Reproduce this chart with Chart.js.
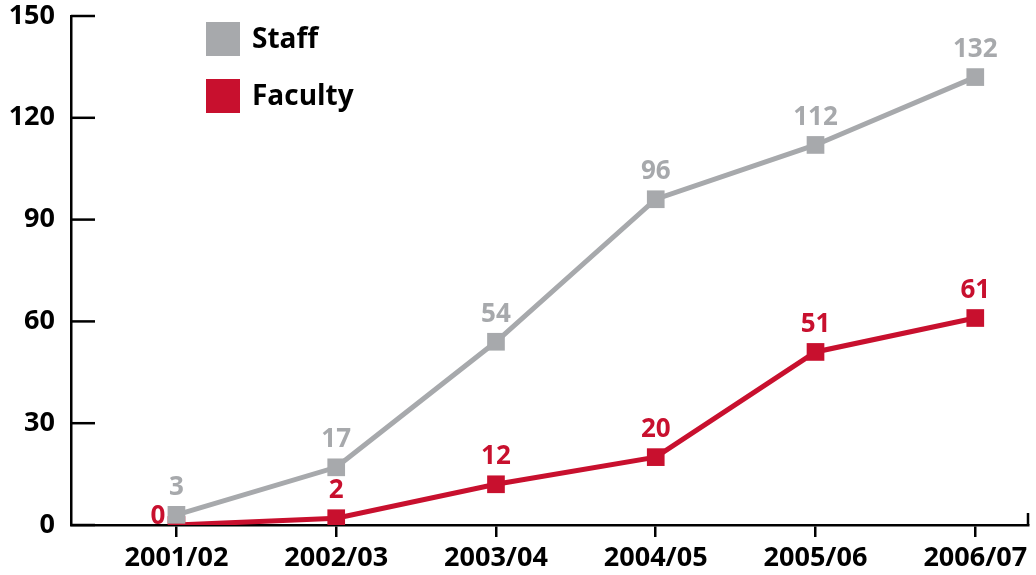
<!DOCTYPE html>
<html>
<head>
<meta charset="utf-8">
<script src="https://cdn.jsdelivr.net/npm/chart.js@4.4.1/dist/chart.umd.min.js"></script>
<style>
  html, body { margin: 0; padding: 0; background: #fff; }
  #wrap { width: 1036px; height: 575px; position: relative; }
</style>
</head>
<body>
<div id="wrap"><canvas id="chart"></canvas></div>
<script>
// ---- data ----
const years = ['2001/02', '2002/03', '2003/04', '2004/05', '2005/06', '2006/07'];
const staff = [3, 17, 54, 96, 112, 132];
const faculty = [0, 2, 12, 20, 51, 61];
const yTicks = [0, 30, 60, 90, 120, 150];

const GREY = '#a7a9ac';
const RED = '#c8102e';
const FONT = "'Open Sans', 'Noto Sans', sans-serif";

const toPoints = arr => arr.map((v, i) => ({ x: i, y: v }));

// ---- custom drawing: inner y ticks, right end tick, legend, value labels ----
const extras = {
  id: 'extras',
  afterDatasetsDraw(chart) {
    const ctx = chart.ctx;
    const { x, y } = chart.scales;
    const area = chart.chartArea;
    ctx.save();

    // y ticks pointing into the plot
    ctx.strokeStyle = '#000';
    ctx.lineWidth = 2.5;
    yTicks.forEach(v => {
      const py = y.getPixelForValue(v);
      ctx.beginPath();
      ctx.moveTo(area.left, py);
      ctx.lineTo(area.left + 24, py);
      ctx.stroke();
    });
    // small upward tick at right end of x axis
    ctx.beginPath();
    ctx.moveTo(area.right, area.bottom);
    ctx.lineTo(area.right, area.bottom - 12);
    ctx.stroke();

    // value labels
    ctx.font = 'bold 26px ' + FONT;
    chart.data.datasets.forEach((ds, di) => {
      const meta = chart.getDatasetMeta(di);
      meta.data.forEach((pt, i) => {
        // if another series sits just above this point, put the label on the left
        let crowded = false;
        chart.data.datasets.forEach((other, oi) => {
          if (oi === di) return;
          const op = chart.getDatasetMeta(oi).data[i];
          if (op.y < pt.y && pt.y - op.y < 30) crowded = true;
        });
        ctx.fillStyle = ds.borderColor;
        if (crowded) {
          ctx.textAlign = 'right';
          ctx.textBaseline = 'middle';
          ctx.fillText(String(ds.data[i].y), pt.x - 11, pt.y - 8);
        } else {
          ctx.textAlign = 'center';
          ctx.textBaseline = 'alphabetic';
          ctx.fillText(String(ds.data[i].y), pt.x, pt.y - 20);
        }
      });
    });

    // legend
    ctx.font = 'bold 28px ' + FONT;
    ctx.textAlign = 'left';
    ctx.textBaseline = 'middle';
    chart.data.datasets.forEach((ds, di) => {
      const top = 22 + di * 57;
      ctx.fillStyle = ds.borderColor;
      ctx.fillRect(206, top, 34, 34);
      ctx.fillStyle = '#000';
      ctx.fillText(ds.label, 252, top + 18);
    });

    ctx.restore();
  }
};

new Chart(document.getElementById('chart'), {
  type: 'line',
  data: {
    datasets: [
      {
        label: 'Staff',
        data: toPoints(staff),
        borderColor: GREY,
        backgroundColor: GREY,
        borderWidth: 5,
        pointStyle: 'rect',
        pointRadius: 12.5,
        pointBorderWidth: 0,
        tension: 0
      },
      {
        label: 'Faculty',
        data: toPoints(faculty),
        borderColor: RED,
        backgroundColor: RED,
        borderWidth: 5,
        pointStyle: 'rect',
        pointRadius: 12.5,
        pointBorderWidth: 0,
        tension: 0
      }
    ]
  },
  options: {
    responsive: true,
    maintainAspectRatio: false,
    animation: false,
    layout: { autoPadding: false, padding: { top: 16, right: 8, left: 0, bottom: 0 } },
    plugins: {
      legend: { display: false },
      tooltip: { enabled: false }
    },
    scales: {
      x: {
        type: 'linear',
        min: -0.66,
        max: 5.33,
        afterBuildTicks: scale => { scale.ticks = years.map((_, i) => ({ value: i })); },
        afterFit: scale => {
          scale.height = 50;
          scale.paddingLeft = 0;
          scale.paddingRight = 0;
        },
        border: { display: true, color: '#000', width: 2.5 },
        grid: { drawOnChartArea: false, drawTicks: true, tickLength: 12, color: '#000', lineWidth: 2.5 },
        ticks: {
          autoSkip: false,
          maxRotation: 0,
          padding: 5,
          color: '#000',
          font: { family: FONT, size: 27, weight: 'bold' },
          callback: v => years[v]
        }
      },
      y: {
        min: 0,
        max: 150,
        afterBuildTicks: scale => { scale.ticks = yTicks.map(v => ({ value: v })); },
        afterFit: scale => {
          scale.width = 71;
          scale.paddingTop = 0;
          scale.paddingBottom = 0;
        },
        border: { display: true, color: '#000', width: 2.5 },
        grid: { display: false, drawTicks: false },
        ticks: {
          padding: 16,
          color: '#000',
          font: { family: FONT, size: 27, weight: 'bold' }
        }
      }
    }
  },
  plugins: [extras]
});
</script>
</body>
</html>
